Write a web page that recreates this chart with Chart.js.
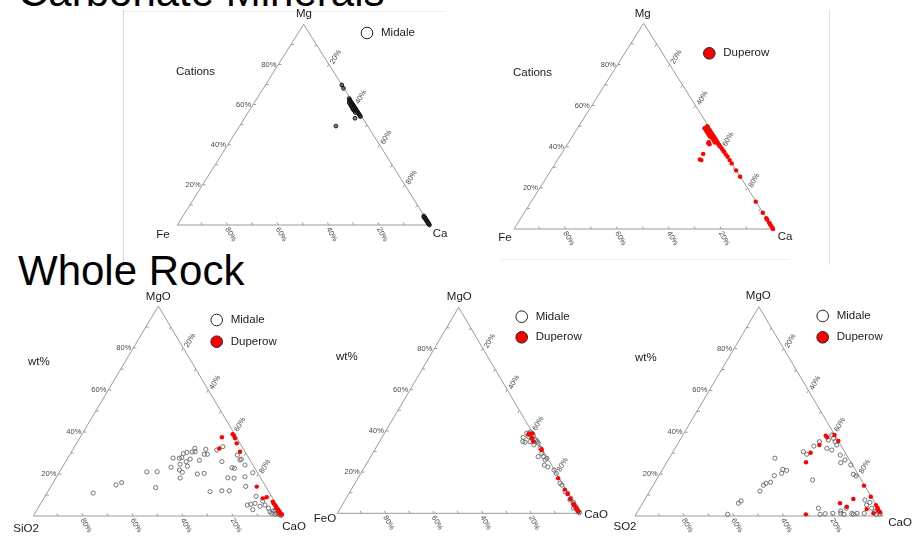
<!DOCTYPE html>
<html>
<head>
<meta charset="utf-8">
<script src="https://cdn.jsdelivr.net/npm/chart.js@4.4.0/dist/chart.umd.min.js"></script>
<style>
  body { margin: 0; background: #fff; width: 912px; height: 541px; overflow: hidden; position: relative;
         font-family: "Liberation Sans", Arial, sans-serif; }
  canvas { position: absolute; left: 0; top: 0; }
  .title { position: absolute; left: 18px; font-size: 42px; line-height: 42px; color: #000; white-space: nowrap; }
  .rule { position: absolute; }
</style>
</head>
<body>
<div class="rule" style="left:123px;top:10px;width:1px;height:258px;background:#d4d4d4"></div>
<div class="rule" style="left:124px;top:11px;width:322px;height:1px;background:#f0f0f0"></div>
<div class="rule" style="left:829px;top:10px;width:1px;height:255px;background:#e2e2e2"></div>
<div class="rule" style="left:500px;top:259px;width:290px;height:1px;background:#f0f0f0"></div>
<div class="title" style="top:-29px">Carbonate Minerals</div>
<div class="title" style="top:250px">Whole Rock</div>
<canvas id="c1" width="912" height="541"></canvas>
<canvas id="c2" width="912" height="541"></canvas>
<canvas id="c3" width="912" height="541"></canvas>
<canvas id="c4" width="912" height="541"></canvas>
<canvas id="c5" width="912" height="541"></canvas>
<script>
// ternary compositions in %, third component = 100 - first - second
const cationMidaleMg = [63,62.5,62,61.5,61,60.5,60,59.5,59,58.5,58,57.5,57,56.5,56,55.5,55,54.5,54,61,60,59,58,57,56,57.6,53.2,49.3,69.8,68.1,59.5,58.2,4.5,4,3.5,3,2.5,2,1.5,1,0.5,0,3.8,2.8,1.8,0.8];
const cationMidaleCa = [36.5,37,37.2,37.8,38.5,38.8,39.5,40,40.2,41,41.5,42,42.2,43,43.5,44,44.5,45,45.5,37.5,38.5,39.5,40.5,41.5,42.5,40.8,43.7,38.1,30.2,31.7,39,40.3,95.3,95.8,96.3,96.8,97.3,97.8,98.3,98.8,99.3,99.8,95.7,96.9,97.9,98.9];

const cationDuperowMg = [50,49.5,49,48.5,48,47.5,47,46.5,46,45.5,45,44.5,44,43.5,43,42.5,42,41.5,41,40.5,40,49,48,47,46,45,44,43,42,41.7,42.2,41.2,36.5,33.5,33.8,39,38,37.6,36.3,35.1,33.5,31.9,28.5,25.4,13.3,7.9,5.2,4.5,3.1,2.5,1.8,1.1,0.5,0];
const cationDuperowCa = [49.5,50,50.3,50.8,51.5,51.8,52.5,52.8,53.5,54,54.5,55,55.5,56,56.5,57,57.5,58,58.5,59,59.6,49,50,51,52,53,54.5,55.5,56.5,54.1,54,54.8,54.7,55.5,54.8,60.7,61.7,62.2,63.5,64.8,66.4,68,71.4,74.5,86.6,92,94.7,95.4,96.8,97.4,98.1,98.8,99.4,99.9];

const sioMidaleMgO = [10.9,14.8,15.9,21,21.1,13.5,23.2,27.6,27.5,24.6,21.9,20.8,18.1,27.8,29.7,30.3,25.9,23.7,27.1,30.5,32.2,30.6,26.5,20,20.3,29.4,29.4,31.8,11.6,31.4,33,25.9,12,18.2,12,23,22.7,18,29,27,24.3,14.1,20.6,9.4,7.1,6,5.6,5.2,3,4.6,5.2,3.7,2,2.4,1.3,0.8,1.3,0.5,1.8,18.7,26.7,1,0.3,2.8];
const sioMidaleCaO = [18.5,25.7,27.4,34.9,39,42.2,43.5,42.1,44.7,46.4,47.5,49.2,49.7,45.5,45.2,46.3,48.2,49.8,49.2,48.3,48.5,49.4,53.2,55.6,58.2,53.7,54.9,53.1,64.9,57.7,59.3,62.5,69.4,68.7,72.4,68,69.1,71.3,67.1,69.7,72.5,77.9,77.5,84.4,88.2,85.7,84.2,83,86.3,88.4,90.1,92.2,93.7,94.8,96.7,96.3,94.7,98.4,97.3,75.3,69.3,97.5,99,95.5];
const sioDuperowMgO = [37.5,32.2,38.9,38.2,37,34.6,30.6,14,8.4,8.9,6.8,5.2,3.7,2.4,1.3,0.8,4.5,3,2,6];
const sioDuperowCaO = [56.7,58.3,60.3,61.2,62.2,64.1,67.4,82.4,87.6,88.9,92.4,94.1,95.5,96.8,98,99,94.8,96.5,97.6,93.2];

const feoMidaleMgO = [36.8,38.9,38.8,36.4,37.7,35.6,34.8,34.8,34.5,33.2,34,29.1,27.5,25.9,26.7,23.4,21,19.4,14.6,13.7,9.7,7.3,5.3,3.7,2.4,0.6,2.4,1.6,6.5,10.5,27.5,31.6,34.8,38,37.2,39.5,4.5,3,1,0.3,22.5];
const feoMidaleCaO = [58.2,58.6,59.7,61.9,61.9,64.1,65,62,60.1,64.4,65.8,69.7,71.2,72.7,73,73.6,78.8,80.5,84.5,85.7,90.1,92.6,94.7,96.2,97.5,99.4,96.1,98.1,92.6,88.6,69,67.8,59,60.5,60.2,59.8,95,96.5,98.6,99.5,75.5];
const feoDuperowMgO = [38.3,38.8,34.8,31.1,17,9.4,4.4,4,38.5,36.5,30.7,11.5,7,2.5,1];
const feoDuperowCaO = [59.6,61.1,63.4,68.6,82.5,90.2,95.2,95.6,60.2,62,68.8,88,92.5,97.2,98.8];

const so2MidaleMgO = [0.8,6.1,7.2,11.9,14.7,15.6,16.1,19.3,27.6,20.4,22.3,21.8,17.2,30.7,29.5,33.4,3.7,0.8,1.1,35.5,32.3,31.5,38.7,37.1,35.5,33.9,36.3,29.1,25.5,26.8,24.4,19.9,19.1,2.4,1.3,3.7,1.3,0.8,1.3,1.3,7.6,5.2,6.5,3.7,2.1,2.9,1,0.8,1.3,0.8];
const so2MidaleCaO = [37,38.7,39.2,44.5,44.5,45.1,46.7,46.6,42.7,49,48.5,50.3,63.1,52.6,54.6,55.5,72.2,74.3,76.2,56.7,61.3,63.7,60.1,61.6,63.1,64.5,59.9,68.3,70.3,71.4,74.9,78.2,79.7,81.8,82.4,83.4,86.9,87.7,89,91.9,89,90.9,91.6,93.7,95.8,96.4,98.3,97,79.2,84];
const so2DuperowMgO = [0.8,25.7,30.2,33.9,38.4,37.6,38.7,35.8,6.1,4.4,8.1,14.5,9.2,3.3,1.3,5.2,2.9,4,1.8];
const so2DuperowCaO = [68.6,56.2,55.8,57.5,57.8,58.8,61.2,64.2,79.7,83.3,84.1,85.2,90.6,91.9,95.6,94.7,96.8,95.9,98.1];

// triangle corners (left, right, apex) and axis ticks
const frameTop = [0, 0, 100, 0];
const frameRight = [0, 100, 0, 0];
const tickSteps = [10, 20, 30, 40, 50, 60, 70, 80, 90];
const tickLabels = [20, 40, 60, 80];

const FONT = '"Liberation Sans", Arial, sans-serif';

function toXY(top, right) {
  return top.map((m, i) => ({ x: right[i] + m / 2, y: m }));
}

const midaleDark = { pointRadius: 1.9, borderColor: '#111', borderWidth: 0.9, backgroundColor: 'rgba(40,40,40,0.6)' };
const midaleOpen = { pointRadius: 2.1, borderColor: '#666', borderWidth: 0.9, backgroundColor: 'rgba(255,255,255,0)' };
const duperowDot = { pointRadius: 2.2, borderColor: '#f00', borderWidth: 0, backgroundColor: '#f00' };

const panels = [
  { id: 'c1', box: { L: 177.3, R: 430, T: 24.3, B: 225 },
    texts: [['Mg', 304, 14, 'center'], ['Fe', 163, 235, 'center'], ['Ca', 440, 234, 'center'], ['Cations', 176, 72, 'left']],
    legend: [['Midale', 367, 33, '#fff']],
    series: [[cationMidaleMg, cationMidaleCa, midaleDark, 2]] },
  { id: 'c2', box: { L: 514, R: 773.3, T: 23.3, B: 229 },
    texts: [['Mg', 642.7, 13.5, 'center'], ['Fe', 505, 238, 'center'], ['Ca', 785, 237, 'center'], ['Cations', 513, 73, 'left']],
    legend: [['Duperow', 709.3, 53.3, '#f00']],
    series: [[cationDuperowMg, cationDuperowCa, duperowDot, 1]] },
  { id: 'c3', box: { L: 33.3, R: 283.3, T: 306, B: 516 },
    texts: [['MgO', 158.3, 297, 'center'], ['SiO2', 26, 529, 'center'], ['CaO', 294, 527, 'center'], ['wt%', 28, 362, 'left']],
    legend: [['Midale', 216.7, 320, '#fff'], ['Duperow', 216.7, 341.7, '#f00']],
    series: [[sioMidaleMgO, sioMidaleCaO, midaleOpen, 2], [sioDuperowMgO, sioDuperowCaO, duperowDot, 1]] },
  { id: 'c4', box: { L: 337.3, R: 580, T: 307.3, B: 513.3 },
    texts: [['MgO', 459.3, 297, 'center'], ['FeO', 325, 519, 'center'], ['CaO', 596, 515, 'center'], ['wt%', 336, 357, 'left']],
    legend: [['Midale', 521.7, 316.7, '#fff'], ['Duperow', 521.7, 337.3, '#f00']],
    series: [[feoMidaleMgO, feoMidaleCaO, midaleOpen, 2], [feoDuperowMgO, feoDuperowCaO, duperowDot, 1]] },
  { id: 'c5', box: { L: 635, R: 882.7, T: 306.7, B: 516 },
    texts: [['MgO', 758.3, 296, 'center'], ['SO2', 625, 527, 'center'], ['CaO', 900, 523, 'center'], ['wt%', 635, 358, 'left']],
    legend: [['Midale', 822.7, 316, '#fff'], ['Duperow', 822.7, 337.3, '#f00']],
    series: [[so2MidaleMgO, so2MidaleCaO, midaleOpen, 2], [so2DuperowMgO, so2DuperowCaO, duperowDot, 1]] }
];

const ternaryDecor = {
  id: 'ternaryDecor',
  beforeDatasetsDraw(chart, args, o) {
    const ctx = chart.ctx, xs = chart.scales.x, ys = chart.scales.y;
    const P = (m, c) => [xs.getPixelForValue(c + m / 2), ys.getPixelForValue(m)];
    const tick = (p, q) => {
      const dx = q[0] - p[0], dy = q[1] - p[1], d = Math.hypot(dx, dy);
      ctx.beginPath();
      ctx.moveTo(p[0], p[1]);
      ctx.lineTo(p[0] + dx / d * 3, p[1] + dy / d * 3);
      ctx.stroke();
    };
    ctx.save();
    ctx.strokeStyle = '#9a9a9a';
    ctx.lineWidth = 1;
    tickSteps.forEach(t => {
      tick(P(t, 0), P(t, 5));
      tick(P(100 - t, t), P(95 - t, t));
      tick(P(0, t), P(5, t - 5));
    });
    ctx.fillStyle = '#4a4a4a';
    ctx.font = '7.5px ' + FONT;
    ctx.textBaseline = 'middle';
    tickLabels.forEach(t => {
      let [x, y] = P(t, 0);
      ctx.textAlign = 'right';
      ctx.fillText(t + '%', x - 2, y);
      ctx.textAlign = 'left';
      [x, y] = P(100 - t, t);
      ctx.save();
      ctx.translate(x + 3, y - 1);
      ctx.rotate(-Math.PI / 3);
      ctx.fillText(t + '%', 0, 0);
      ctx.restore();
      [x, y] = P(0, t);
      ctx.save();
      ctx.translate(x - 1, y + 3);
      ctx.rotate(Math.PI / 3);
      ctx.fillText((100 - t) + '%', 0, 0);
      ctx.restore();
    });
    ctx.restore();
  },
  afterDatasetsDraw(chart, args, o) {
    const ctx = chart.ctx;
    ctx.save();
    ctx.fillStyle = '#1a1a1a';
    ctx.textBaseline = 'middle';
    ctx.font = '11.5px ' + FONT;
    o.texts.forEach(([txt, x, y, align]) => {
      ctx.textAlign = align;
      ctx.fillText(txt, x, y);
    });
    o.legend.forEach(([txt, x, y, fill]) => {
      ctx.beginPath();
      ctx.arc(x, y, 5.8, 0, Math.PI * 2);
      ctx.fillStyle = fill;
      ctx.fill();
      ctx.lineWidth = 1;
      ctx.strokeStyle = '#222';
      ctx.stroke();
      ctx.fillStyle = '#1a1a1a';
      ctx.textAlign = 'left';
      ctx.fillText(txt, x + 14, y);
    });
    ctx.restore();
  }
};

panels.forEach(p => {
  const datasets = p.series.map(([top, right, style, order]) => Object.assign({
    data: toXY(top, right), order: order, clip: false, pointHoverRadius: 0
  }, style));
  datasets.push({
    data: toXY(frameTop, frameRight), showLine: true, order: 5, clip: false,
    borderColor: '#9a9a9a', borderWidth: 1, pointRadius: 0, fill: false
  });
  new Chart(document.getElementById(p.id), {
    type: 'scatter',
    data: { datasets: datasets },
    options: {
      responsive: false,
      animation: false,
      events: [],
      layout: { padding: { left: p.box.L, right: 912 - p.box.R, top: p.box.T, bottom: 541 - p.box.B } },
      scales: {
        x: { type: 'linear', min: 0, max: 100, display: false },
        y: { type: 'linear', min: 0, max: 100, display: false }
      },
      plugins: {
        legend: { display: false },
        tooltip: { enabled: false },
        ternaryDecor: { texts: p.texts, legend: p.legend }
      }
    },
    plugins: [ternaryDecor]
  });
});
</script>
</body>
</html>
